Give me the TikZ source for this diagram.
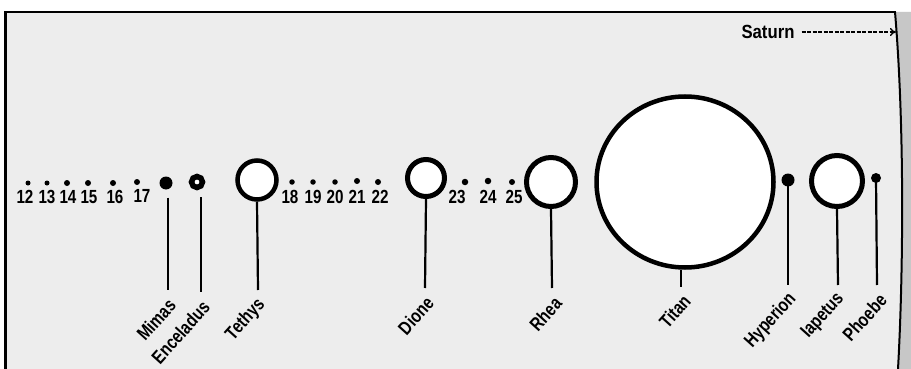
\documentclass[tikz,border=0pt]{standalone}
\usepackage{fontspec}
\setmainfont{Liberation Sans}[FakeStretch=0.88]
\newfontfamily\narrowf{Liberation Sans}[FakeStretch=0.8]
\usetikzlibrary{arrows.meta,shapes.geometric}
\tikzset{
  ring/.style={circle, draw=black, fill=white, inner sep=0pt, line width=#1},
  ring/.default=4.5pt,
  dotm/.style={circle, fill=black, inner sep=0pt},
  num/.style={inner sep=0pt, font=\narrowf\fontsize{19}{19}\selectfont\bfseries},
  lab/.style={inner sep=0pt, font=\narrowf\fontsize{19}{19}\selectfont\bfseries, rotate=48, anchor=east},
  conn/.style={line width=2.2pt, draw=black},
}
\begin{document}
\begin{tikzpicture}[x=1pt,y=-1pt]
\useasboundingbox (0,0) rectangle (911,369);
% background
\fill[white] (0,0) rectangle (911,369);
\fill[black!7] (5,12) rectangle (911,369);
\fill[black!22] (895,12) .. controls (905,130) and (903,280) .. (898,369) -- (911,369) -- (911,12) -- cycle;
% frame
\draw[line width=1.5pt] (5,12) -- (896,12);
\draw[line width=3.5pt] (5.5,11.3) -- (5.5,369);
\draw[line width=2pt] (895,12) .. controls (905,130) and (903,280) .. (898,369);

% Saturn
\node[inner sep=0pt, font=\fontsize{19}{19}\selectfont\bfseries] (saturn) at (768,32) {Saturn};
\coordinate (limb) at (896,32);
\draw[line width=1.2pt, dash pattern=on 4pt off 1.5pt, -{To[length=6pt,width=8pt,line width=1.4pt]}] ([xshift=7pt]saturn.east) -- (limb);

% small moons 12-17
\node[dotm, minimum size=5pt] (m12) at (28,183) {};
\node[dotm, minimum size=5pt] (m13) at (47,183) {};
\node[dotm, minimum size=6pt] (m14) at (67,183) {};
\node[dotm, minimum size=6pt] (m15) at (88,183) {};
\node[dotm, minimum size=6pt] (m16) at (113,183) {};
\node[dotm, minimum size=6pt] (m17) at (137,182) {};
\node[num] (n12) at (25,197) {12};
\node[num] (n13) at (47,197) {13};
\node[num] (n14) at (68,197) {14};
\node[num] (n15) at (89,197) {15};
\node[num] (n16) at (115,197) {16};
\node[num] (n17) at (142,196) {17};

% small moons 18-22
\node[dotm, minimum size=5.5pt] (m18) at (292,182) {};
\node[dotm, minimum size=5.5pt] (m19) at (313,182) {};
\node[dotm, minimum size=5.5pt] (m20) at (335,182) {};
\node[dotm, minimum size=6pt] (m21) at (357,181) {};
\node[dotm, minimum size=6pt] (m22) at (378,182) {};
\node[num] (n18) at (290,197) {18};
\node[num] (n19) at (313,197) {19};
\node[num] (n20) at (335,197) {20};
\node[num] (n21) at (357,197) {21};
\node[num] (n22) at (380,197) {22};

% small moons 23-25
\node[dotm, minimum size=6.5pt] (m23) at (465,182) {};
\node[dotm, minimum size=6.5pt] (m24) at (488,181) {};
\node[dotm, minimum size=6pt] (m25) at (512,182) {};
\node[num] (n23) at (457,197) {23};
\node[num] (n24) at (488,197) {24};
\node[num] (n25) at (514,197) {25};

% named moons
\node[dotm, minimum size=13pt] (mimas) at (166,183) {};
\node[ring=5.5pt, minimum size=11pt] (enceladus) at (197,182) {};
\node[ring=4.5pt, minimum size=39pt] (tethys) at (257,180) {};
\node[ring=5pt, minimum size=37pt] (dione) at (426,178) {};
\node[ring=5pt, minimum size=49pt] (rhea) at (551,182) {};
\node[ellipse, draw=black, fill=white, inner sep=0pt, line width=4.5pt, minimum width=177pt, minimum height=171pt] (titan) at (685,182) {};
\node[dotm, minimum size=13pt] (hyperion) at (788,180) {};
\node[ring=5pt, minimum size=51pt] (iapetus) at (837,181) {};
\node[dotm, minimum size=10pt] (phoebe) at (876,178) {};

% line ends
\coordinate (eMimas) at (168,290);
\coordinate (eEnceladus) at (201,292);
\coordinate (eTethys) at (258,290);
\coordinate (eDione) at (425,288);
\coordinate (eRhea) at (552,288);
\coordinate (eTitan) at (681,287);
\coordinate (eHyperion) at (788,285);
\coordinate (eIapetus) at (838,285);
\coordinate (ePhoebe) at (877,285);

\draw[conn] (eMimas |- mimas.south) ++(0,8) -- (eMimas);
\draw[conn] (eEnceladus |- enceladus.south) ++(0,7) -- (eEnceladus);
\draw[conn] (tethys.south) -- (eTethys);
\draw[conn] (dione.south) -- (eDione);
\draw[conn] (rhea.south) -- (eRhea);
\draw[conn] (titan.south -| eTitan) -- (eTitan);
\draw[conn] (hyperion.center) -- (eHyperion);
\draw[conn] (iapetus.south) -- (eIapetus);
\draw[conn] (phoebe.center) -- (ePhoebe);

% labels
\node[lab] (lMimas) at ([shift={(4,12)}]eMimas) {Mimas};
\node[lab] (lEnceladus) at ([shift={(5,12)}]eEnceladus) {Enceladus};
\node[lab] (lTethys) at ([shift={(4,12)}]eTethys) {Tethys};
\node[lab] (lDione) at ([shift={(5,12)}]eDione) {Dione};
\node[lab] (lRhea) at ([shift={(6,12)}]eRhea) {Rhea};
\node[lab] (lTitan) at ([shift={(6,11)}]eTitan) {Titan};
\node[lab] (lHyperion) at ([shift={(5,11)}]eHyperion) {Hyperion};
\node[lab] (lIapetus) at ([shift={(3,11)}]eIapetus) {Iapetus};
\node[lab] (lPhoebe) at ([shift={(6,12)}]ePhoebe) {Phoebe};
\end{tikzpicture}
\end{document}
